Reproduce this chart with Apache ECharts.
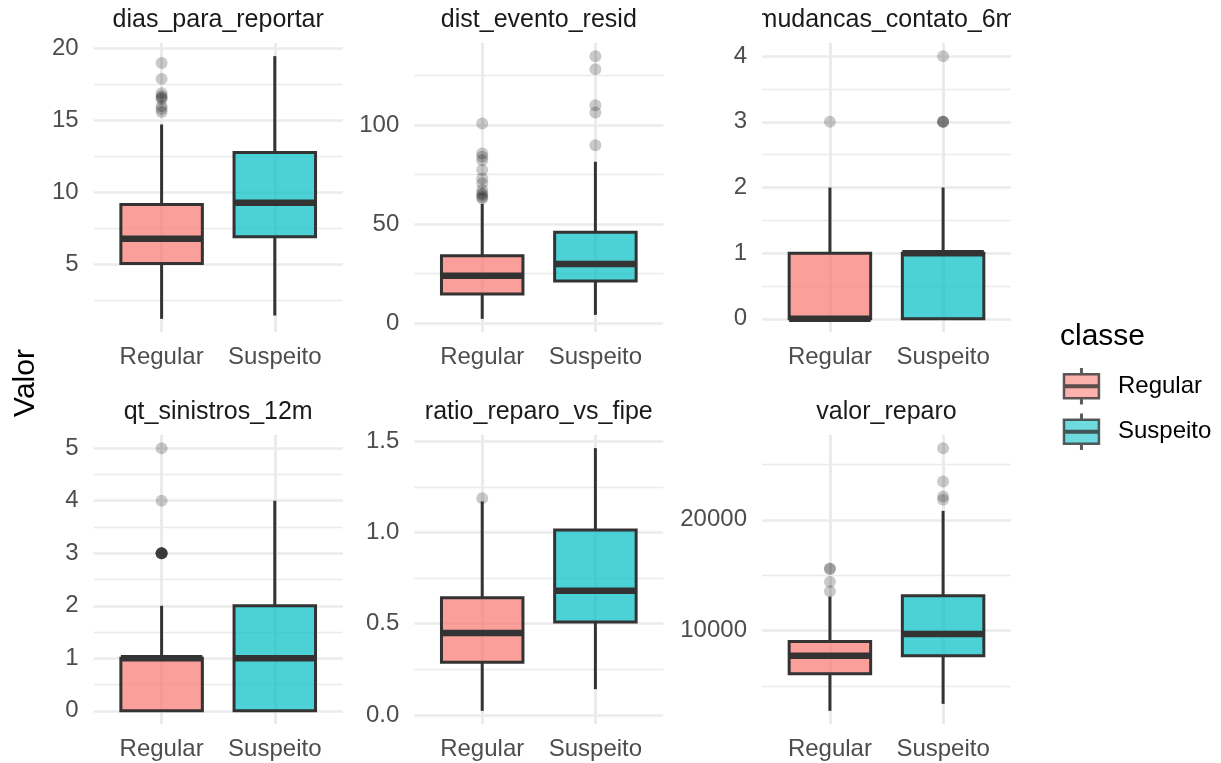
<!DOCTYPE html>
<html>
<head>
<meta charset="utf-8">
<script src="https://cdn.jsdelivr.net/npm/echarts@6/dist/echarts.min.js"></script>
<style>html,body{margin:0;padding:0;background:#fff}#c{width:1221px;height:763px}</style>
</head>
<body>
<div id="c"></div>
<script>
// ---------- data (box stats: [lower whisker, Q1, median, Q3, upper whisker]) ----------
const classes = ['Regular', 'Suspeito'];
const panelNames = ['dias_para_reportar', 'dist_evento_resid', 'mudancas_contato_6m',
                    'qt_sinistros_12m', 'ratio_reparo_vs_fipe', 'valor_reparo'];

const diasBox = [[1.23, 5.07, 6.8, 9.18, 14.73], [1.46, 6.93, 9.3, 12.78, 19.48]];
const diasOut = [[19.0, 17.9, 16.9, 16.7, 16.6, 16.5, 16.0, 15.8, 15.6], []];
const diasTicks = [5, 10, 15, 20];
const diasMinor = [2.5, 7.5, 12.5, 17.5];

const distBox = [[2.2, 14.8, 24.0, 34.0, 60.2], [4.2, 21.3, 29.9, 45.9, 81.5]];
const distOut = [[100.8, 85.7, 84.0, 82.3, 77.3, 73.1, 70.6, 67.2, 65.5, 64.7, 63.6, 63.0],
                 [134.8, 128.2, 110.0, 106.4, 89.8]];
const distTicks = [0, 50, 100];
const distMinor = [25, 75, 125];

const mudBox = [[0, 0, 0, 1, 2], [0, 0, 1, 1, 2]];
const mudOut = [[3], [4, 3, 3, 3]];
const mudTicks = [0, 1, 2, 3, 4];
const mudMinor = [0.5, 1.5, 2.5, 3.5];

const qtBox = [[0, 0, 1, 1, 2], [0, 0, 1, 2, 4]];
const qtOut = [[5, 4, 3, 3, 3, 3, 3, 3], []];
const qtTicks = [0, 1, 2, 3, 4, 5];
const qtMinor = [0.5, 1.5, 2.5, 3.5, 4.5];

const ratioBox = [[0.022, 0.288, 0.449, 0.642, 1.17], [0.141, 0.509, 0.681, 1.013, 1.462]];
const ratioOut = [[1.187], []];
const ratioTicks = [0, 0.5, 1, 1.5];
const ratioMinor = [0.25, 0.75, 1.25];

const valorBox = [[2746, 6088, 7714, 9006, 13071], [3378, 7714, 9700, 13135, 20813]];
const valorOut = [[15600, 15550, 14400, 13560], [26477, 23460, 22105, 21807]];
const valorTicks = [10000, 20000];
const valorMinor = [5000, 15000, 25000];

// ---------- build ----------
const panels = [
  {name: panelNames[0], box: diasBox, out: diasOut, ticks: diasTicks, minor: diasMinor, dec: 0},
  {name: panelNames[1], box: distBox, out: distOut, ticks: distTicks, minor: distMinor, dec: 0},
  {name: panelNames[2], box: mudBox, out: mudOut, ticks: mudTicks, minor: mudMinor, dec: 0},
  {name: panelNames[3], box: qtBox, out: qtOut, ticks: qtTicks, minor: qtMinor, dec: 0},
  {name: panelNames[4], box: ratioBox, out: ratioOut, ticks: ratioTicks, minor: ratioMinor, dec: 1},
  {name: panelNames[5], box: valorBox, out: valorOut, ticks: valorTicks, minor: valorMinor, dec: 0}
];

const FONT = "'Liberation Sans', Arial, Helvetica, sans-serif";
const fills = ['rgba(248,118,109,0.7)', 'rgba(0,191,196,0.7)'];
const LINE = '#333333';
const GRID = '#EBEBEB';
const colLeft = [93.7, 414.3, 762];
const rowTop = [43, 435];
const PW = 249, PH = 289;

function renderBox(params, api) {
  const x = api.value(0);
  const lo = api.value(1), q1 = api.value(2), md = api.value(3), q3 = api.value(4), hi = api.value(5);
  const half = 0.36;
  const pLo = api.coord([x, lo]), pQ1 = api.coord([x, q1]), pMd = api.coord([x, md]);
  const pQ3 = api.coord([x, q3]), pHi = api.coord([x, hi]);
  const left = api.coord([x - half, md])[0], right = api.coord([x + half, md])[0];
  return {
    type: 'group',
    children: [
      {type: 'line', shape: {x1: pHi[0], y1: pHi[1], x2: pQ3[0], y2: pQ3[1]}, style: {stroke: LINE, lineWidth: 3}},
      {type: 'line', shape: {x1: pQ1[0], y1: pQ1[1], x2: pLo[0], y2: pLo[1]}, style: {stroke: LINE, lineWidth: 3}},
      {type: 'rect', shape: {x: left, y: pQ3[1], width: right - left, height: pQ1[1] - pQ3[1]},
       style: {fill: fills[x - 1], stroke: LINE, lineWidth: 3}},
      {type: 'line', shape: {x1: left, y1: pMd[1], x2: right, y2: pMd[1]}, style: {stroke: LINE, lineWidth: 6.5}}
    ]
  };
}

const grids = [], xAxes = [], yAxes = [], series = [], graphics = [];
panels.forEach((p, i) => {
  const row = Math.floor(i / 3), col = i % 3;
  grids.push({left: colLeft[col], top: rowTop[row], width: PW, height: PH, containLabel: false});
  let lo = Infinity, hi = -Infinity;
  p.box.forEach(b => { lo = Math.min(lo, ...b); hi = Math.max(hi, ...b); });
  p.out.forEach(o => o.forEach(v => { lo = Math.min(lo, v); hi = Math.max(hi, v); }));
  const pad = 0.05 * (hi - lo);
  const ymin = lo - pad, ymax = hi + pad;

  xAxes.push({
    gridIndex: i, type: 'value', min: 0.4, max: 2.6,
    axisLine: {show: false},
    axisTick: {show: false, customValues: [1, 2]},
    axisLabel: {customValues: [1, 2], formatter: v => classes[Math.round(v) - 1],
                fontSize: 24, color: '#4D4D4D', fontFamily: FONT, margin: 13},
    splitLine: {show: true, lineStyle: {color: GRID, width: 3}}
  });
  yAxes.push({
    gridIndex: i, type: 'value', min: ymin, max: ymax, position: 'left',
    axisLine: {show: false},
    axisTick: {show: false, customValues: p.ticks},
    axisLabel: {customValues: p.ticks, formatter: v => v.toFixed(p.dec),
                fontSize: 24, color: '#4D4D4D', fontFamily: FONT, margin: 15},
    splitLine: {show: true, lineStyle: {color: GRID, width: 2.6}}
  });
  yAxes.push({
    gridIndex: i, type: 'value', min: ymin, max: ymax, position: 'right',
    axisLine: {show: false},
    axisTick: {show: false, customValues: p.minor},
    axisLabel: {show: false},
    splitLine: {show: true, lineStyle: {color: GRID, width: 1.3}}
  });

  classes.forEach((c, ci) => {
    series.push({
      type: 'scatter', name: c, xAxisIndex: i, yAxisIndex: 2 * i, z: 2, silent: true,
      symbolSize: 12, itemStyle: {color: 'rgba(0,0,0,0.26)'},
      data: p.out[ci].map(v => [ci + 1, v])
    });
    series.push({
      type: 'custom', name: c, xAxisIndex: i, yAxisIndex: 2 * i, z: 3,
      renderItem: renderBox, itemStyle: {color: fills[ci]},
      encode: {x: 0, y: [1, 2, 3, 4, 5]},
      data: [[ci + 1, ...p.box[ci]]]
    });
  });

  graphics.push({
    type: 'text', x: colLeft[col] + PW / 2, y: row === 0 ? 20 : 412, z: 1,
    style: {text: p.name, font: `25px ${FONT}`, fill: '#1A1A1A', textAlign: 'center', textVerticalAlign: 'middle'}
  });
});

// strip text is clipped to the strip width (as in the reference)
colLeft.forEach(l => {
  graphics.push({type: 'rect', z: 5, shape: {x: l - 60, y: 0, width: 60, height: 38}, style: {fill: '#fff'}});
  graphics.push({type: 'rect', z: 5, shape: {x: l + PW, y: 0, width: 40, height: 38}, style: {fill: '#fff'}});
  graphics.push({type: 'rect', z: 5, shape: {x: l - 60, y: 392, width: 60, height: 38}, style: {fill: '#fff'}});
  graphics.push({type: 'rect', z: 5, shape: {x: l + PW, y: 392, width: 40, height: 38}, style: {fill: '#fff'}});
});

graphics.push({
  type: 'text', x: 26, y: 383, rotation: Math.PI / 2, z: 6,
  style: {text: 'Valor', font: `30px ${FONT}`, fill: '#000', textAlign: 'center', textVerticalAlign: 'middle'}
});
graphics.push({
  type: 'text', x: 1060, y: 337, z: 6,
  style: {text: 'classe', font: `30px ${FONT}`, fill: '#000', textAlign: 'left', textVerticalAlign: 'middle'}
});

const legendIcon = 'path://M17.25,0h0.5v5h-0.5z M0,5h35v24h-35z M0,16.25h35v1.5h-35z M17.25,29h0.5v5h-0.5z';

const option = {
  animation: false,
  backgroundColor: '#ffffff',
  grid: grids, xAxis: xAxes, yAxis: yAxes, series: series,
  graphic: graphics,
  legend: {
    orient: 'vertical', left: 1062.7, top: 368, padding: 0,
    itemWidth: 35, itemHeight: 34, itemGap: 9,
    data: classes.map((c, ci) => ({name: c, icon: legendIcon,
      itemStyle: {color: fills[ci], borderColor: LINE, borderWidth: 2.5}})),
    textStyle: {fontSize: 24, color: '#000', fontFamily: FONT, padding: [0, 0, 0, 14]}
  }
};

const chart = echarts.init(document.getElementById('c'), null, {renderer: 'canvas'});
chart.setOption(option);
</script>
</body>
</html>
